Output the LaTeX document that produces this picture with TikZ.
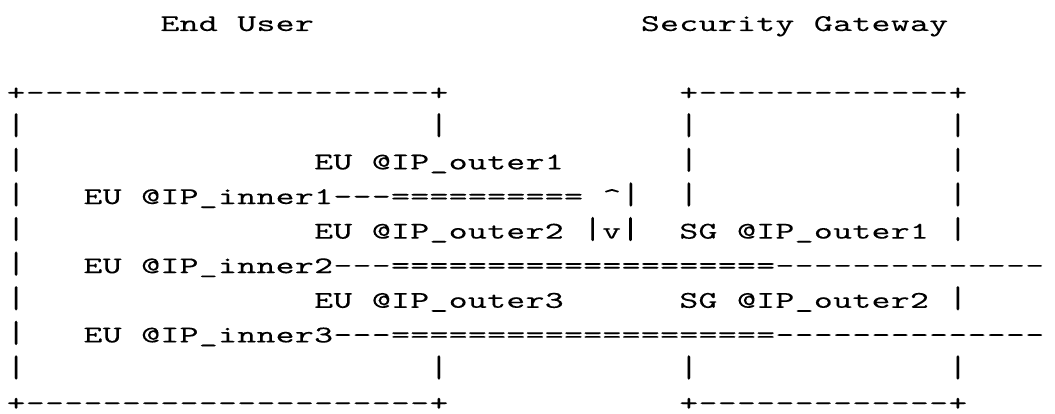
\documentclass[tikz,border=0pt]{standalone}
\usepackage{fontspec}
\newfontfamily\asciifont{lmmono10-regular.otf}[Ligatures=TeXOff, FakeStretch=1.5, FakeBold=0.15, LetterSpace=1.33]
\newcommand\vbar{\scalebox{1}[1.3]{|}}
\tikzset{
  ascii/.style={anchor=base west, inner sep=0pt, text depth=0pt,
    font=\asciifont\fontsize{18pt}{20pt}\selectfont}
}

\begin{document}
\begin{tikzpicture}[x=14.415pt, y=-25.95pt]
    \useasboundingbox (-0.333,-0.896) rectangle (54.557,11.069);
    % Titles
    \node[ascii] (euend) at (8,0) {End};
    \node[ascii] (euuser) at (12,0) {User};
    \node[ascii] (sgsec) at (33,0) {Security};
    \node[ascii] (sggate) at (42,0) {Gateway};

    % Box borders
    \node[ascii] (eutop) at (0,2) {+---------------------+};
    \node[ascii] (sgtop) at (35,2) {+-------------+};
    \node[ascii] (eubot) at (0,10.97) {+---------------------+};
    \node[ascii] (sgbot) at (35,10.97) {+-------------+};
    \foreach \c/\r in {0/3,22/3,35/3,49/3,0/4,35/4,49/4,0/5,35/5,49/5,
        0/6,49/6,0/7,0/8,49/8,0/9,0/10,22/10,35/10,49/10}
        \node[ascii] (bar\c-\r) at (\c,\r) {\vbar};

    % End user addresses
    \node[ascii] (euout1) at (16,4) {EU};
    \node[ascii] (euout1ip) at (19,4) {@IP\_outer1};
    \node[ascii] (euin1) at (4,5) {EU};
    \node[ascii] (euin1ip) at (7,5) {@IP\_inner1---==========};
    \node[ascii] (up) at (31,5) {\textasciicircum\vbar};
    \node[ascii] (euout2) at (16,6) {EU};
    \node[ascii] (euout2ip) at (19,6) {@IP\_outer2};
    \node[ascii] (down) at (30,6) {\vbar v\vbar};
    \node[ascii] (euin2) at (4,7) {EU};
    \node[ascii] (euin2ip) at (7,7) {@IP\_inner2---====================--------------};
    \node[ascii] (euout3) at (16,8) {EU};
    \node[ascii] (euout3ip) at (19,8) {@IP\_outer3};
    \node[ascii] (euin3) at (4,9) {EU};
    \node[ascii] (euin3ip) at (7,9) {@IP\_inner3---====================--------------};

    % Gateway addresses
    \node[ascii] (sgout1) at (35,6) {SG};
    \node[ascii] (sgout1ip) at (38,6) {@IP\_outer1};
    \node[ascii] (sgout2) at (35,8) {SG};
    \node[ascii] (sgout2ip) at (38,8) {@IP\_outer2};
\end{tikzpicture}
\end{document}
